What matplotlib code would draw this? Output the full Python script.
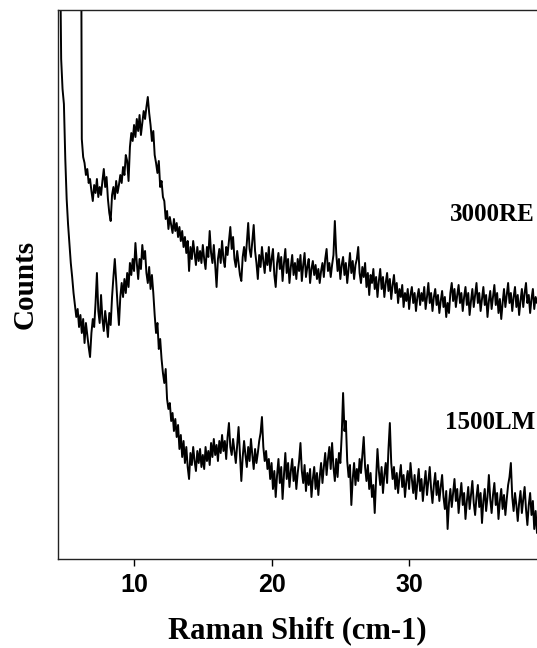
import numpy as np
import matplotlib
matplotlib.use("Agg")
import matplotlib.pyplot as plt

# ---- data (arbitrary count units) ----
x_step = 0.1
upper_start = 6.1
lower_start = 4.5
upper_label = "3000RE"
lower_label = "1500LM"
xticks = [10, 20, 30]

upper_counts = [
    900, 420, 402, 396, 384, 390, 376, 380, 368, 358, 374, 366, 380, 362, 372, 364, 378, 390, 372, 382,
    360, 346, 338, 364, 372, 360, 378, 366, 374, 384, 376, 392, 384, 404, 398, 378, 412, 426, 418, 434,
    422, 440, 428, 444, 424, 436, 448, 440, 452, 462, 446, 434, 418, 428, 404, 396, 386, 398, 372, 378,
    362, 358, 340, 348, 330, 342, 334, 326, 340, 328, 336, 322, 332, 318, 328, 312, 322, 306, 318, 288,
    312, 300, 318, 306, 294, 312, 298, 308, 296, 314, 300, 290, 312, 302, 328, 306, 296, 314, 294, 272,
    300, 310, 296, 318, 300, 292, 312, 304, 318, 332, 310, 322, 300, 292, 308, 296, 284, 278, 302, 312,
    298, 316, 336, 310, 302, 318, 334, 308, 296, 280, 304, 292, 312, 298, 286, 306, 294, 312, 288, 300,
    310, 284, 272, 296, 306, 290, 302, 278, 296, 310, 286, 300, 276, 292, 304, 284, 296, 280, 300, 288,
    304, 278, 294, 306, 282, 292, 300, 276, 290, 298, 284, 294, 280, 290, 276, 288, 296, 282, 300, 310,
    288, 296, 282, 294, 304, 338, 306, 288, 300, 280, 294, 302, 284, 296, 276, 290, 306, 286, 298, 280,
    294, 300, 312, 286, 276, 292, 282, 296, 272, 286, 264, 284, 276, 290, 270, 282, 262, 278, 290, 270,
    282, 262, 276, 286, 268, 280, 260, 274, 284, 266, 276, 256, 270, 262, 274, 252, 266, 258, 270, 250,
    264, 272, 256, 266, 248, 262, 270, 254, 266, 258, 272, 250, 262, 276, 256, 266, 248, 262, 270, 254,
    264, 246, 258, 268, 252, 262, 242, 256, 246, 266, 276, 258, 270, 252, 264, 274, 256, 266, 248, 262,
    272, 254, 266, 244, 258, 270, 252, 264, 276, 256, 266, 248, 260, 272, 254, 264, 242, 258, 268, 250,
    262, 274, 254, 266, 246, 260, 240, 256, 270, 252, 264, 276, 256, 266, 248, 262, 272, 252, 264, 244,
    258, 270, 252, 266, 276, 256, 264, 246, 260, 270, 250, 262, 256, 264,
]

lower_counts = [
    800, 640, 500, 470, 455, 400, 360, 335, 315, 296, 282, 266, 254, 242, 250, 232, 244, 226, 240, 216,
    236, 224, 212, 202, 226, 240, 232, 256, 286, 248, 236, 264, 240, 228, 248, 236, 222, 246, 234, 262,
    282, 300, 278, 254, 234, 262, 276, 262, 280, 266, 286, 272, 296, 284, 300, 288, 316, 296, 280, 300,
    290, 314, 300, 308, 286, 276, 292, 270, 284, 266, 244, 226, 236, 210, 220, 200, 186, 176, 190, 160,
    150, 156, 138, 146, 128, 140, 122, 134, 110, 124, 102, 118, 96, 112, 92, 80, 106, 94, 112, 98,
    88, 108, 96, 110, 92, 104, 90, 112, 98, 108, 94, 116, 102, 120, 104, 114, 98, 118, 106, 124,
    108, 118, 100, 122, 136, 112, 104, 120, 108, 96, 114, 132, 104, 78, 102, 118, 104, 92, 112, 98,
    120, 104, 90, 110, 96, 106, 118, 126, 142, 112, 98, 108, 90, 100, 80, 96, 70, 88, 62, 84,
    100, 76, 92, 60, 84, 106, 80, 96, 72, 88, 100, 78, 92, 70, 86, 98, 116, 88, 76, 94,
    68, 86, 74, 90, 62, 80, 92, 70, 86, 64, 82, 96, 76, 92, 106, 84, 100, 112, 90, 116,
    92, 78, 100, 82, 106, 96, 124, 166, 128, 138, 98, 82, 94, 54, 80, 96, 74, 90, 78, 100,
    86, 104, 122, 92, 78, 94, 70, 86, 62, 74, 46, 80, 110, 88, 74, 92, 66, 84, 96, 76,
    110, 136, 96, 80, 92, 70, 86, 66, 82, 94, 72, 84, 62, 78, 88, 70, 96, 80, 66, 84,
    60, 76, 90, 68, 80, 58, 74, 88, 64, 78, 92, 70, 56, 74, 86, 64, 78, 58, 72, 84,
    62, 50, 68, 30, 56, 70, 52, 66, 80, 58, 70, 46, 62, 76, 54, 66, 40, 58, 72, 50,
    64, 78, 56, 44, 62, 74, 52, 66, 36, 58, 70, 48, 62, 84, 60, 46, 64, 76, 54, 66,
    40, 58, 70, 50, 64, 44, 60, 74, 82, 96, 62, 48, 66, 54, 38, 56, 68, 46, 60, 72,
    50, 34, 54, 66, 44, 58, 30, 48, 26, 40,
]

x_upper = upper_start + x_step * np.arange(len(upper_counts))
x_lower = lower_start + x_step * np.arange(len(lower_counts))

# ---- figure ----
W, H = 537, 648
fig = plt.figure(figsize=(W / 100, H / 100), dpi=100)
ax = fig.add_axes([58 / W, 1 - 559 / H, (W - 58) / W, (559 - 10) / H])

ax.plot(x_upper, upper_counts, color="black", lw=1.4)
ax.plot(x_lower, lower_counts, color="black", lw=1.4)

ax.set_xlim(4.47, 39.3)
ax.set_ylim(0, 549)

ax.set_xticks(xticks)
ax.set_xticklabels([str(t) for t in xticks], family="Liberation Sans",
                   fontweight="bold", fontsize=18)
ax.tick_params(axis="x", direction="out", length=5, width=1, pad=5)
ax.set_yticks([])

for s in ["left", "bottom", "top"]:
    ax.spines[s].set_linewidth(1.0)
    ax.spines[s].set_color("#222222")
ax.spines["right"].set_visible(False)

ax.set_xlabel("Raman Shift (cm-1)", family="Liberation Serif", fontweight="bold",
              fontsize=22, labelpad=14)
ax.set_ylabel("Counts", family="Liberation Serif", fontweight="bold",
              fontsize=21, labelpad=14)

ax.text(0.996, 0.627, upper_label, transform=ax.transAxes, ha="right", va="center",
        family="Liberation Serif", fontweight="bold", fontsize=18)
ax.text(0.996, 0.248, lower_label, transform=ax.transAxes, ha="right", va="center",
        family="Liberation Serif", fontweight="bold", fontsize=18)

fig.savefig("out.png", dpi=100)
